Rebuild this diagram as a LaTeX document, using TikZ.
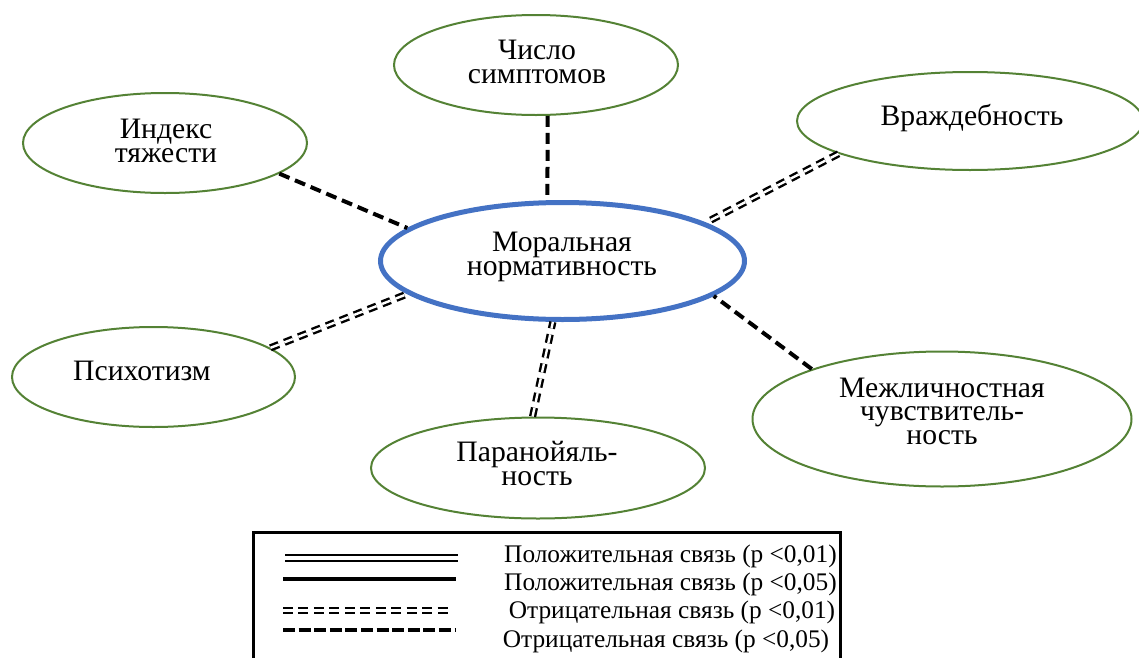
\documentclass[tikz,border=0pt]{standalone}
\usepackage{fontspec}
\setmainfont{Liberation Serif}
\usetikzlibrary{shapes.geometric}
\definecolor{ngreen}{RGB}{84,130,53}
\definecolor{nblue}{RGB}{68,114,196}
\begin{document}
\begin{tikzpicture}[x=0.75pt,y=-0.75pt,
  factor/.style={ellipse, draw=ngreen, line width=1.5pt, inner sep=0pt},
  central/.style={ellipse, draw=nblue, line width=3.75pt, inner sep=0pt},
  ftext/.style={anchor=base, inner sep=0pt, align=center,
    font=\fontsize{22.25pt}{17.6pt}\selectfont},
  negline/.style={line width=3pt, dash pattern=on 8.25pt off 4.5pt},
  negdouble/.style={double, line width=1.8pt, double distance=1.8pt, dash pattern=on 6.75pt off 4.5pt},
  legpos/.style={double, line width=1.5pt, double distance=3pt},
  legsolid/.style={line width=3pt},
  legnegd/.style={double, line width=1.8pt, double distance=1.9pt, dash pattern=on 7.5pt off 4.1pt},
  legneg/.style={line width=3pt, dash pattern=on 9pt off 2.7pt},
  legtext/.style={anchor=base, inner sep=0pt, font=\fontsize{19pt}{21pt}\selectfont},
  legframe/.style={draw=black, line width=2.25pt, inner sep=0pt, anchor=north west}
]
\useasboundingbox (0,0) rectangle (1139,657);
\begin{scope}
\clip (0,0) rectangle (1139,657);

% ellipses
\node[central, minimum width=364*0.75pt, minimum height=117*0.75pt] (moral) at (562.5,261) {};
\node[factor, minimum width=284*0.75pt, minimum height=100*0.75pt] (sym) at (536,65) {};
\node[factor, minimum width=284*0.75pt, minimum height=100*0.75pt] (idx) at (165,143) {};
\node[factor, minimum width=346*0.75pt, minimum height=98*0.75pt] (hos) at (970,121) {};
\node[factor, minimum width=283*0.75pt, minimum height=100*0.75pt] (psy) at (153.5,377) {};
\node[factor, minimum width=334*0.75pt, minimum height=101*0.75pt] (par) at (538,468) {};
\node[factor, minimum width=379*0.75pt, minimum height=135*0.75pt] (inter) at (942,419) {};

% texts (anchored at the baseline of their last line)
\node[ftext] (moralT) at (562,275) {Моральная\\нормативность};
\node[ftext] (symT) at (537,83) {Число\\симптомов};
\node[ftext] (idxT) at (166,162) {Индекс\\тяжести};
\node[ftext] (hosT) at (972,125) {Враждебность};
\node[ftext] (psyT) at (142,380) {Психотизм};
\node[ftext] (parT) at (537,485) {Паранойяль-\\ность};
\node[ftext] (interT) at (942,444) {Межличностная\\чувствитель-\\ность};

% connectors
\draw[negline] (sym.-77.6) -- (moral.104.7);
\draw[negline] (idx.-15.7) -- (moral.168.3);
\draw[negdouble] (hos.194.4) -- (moral.15.2);
\draw[negdouble] (psy.14.2) -- (moral.192.7);
\draw[negdouble] (par.96.7) -- (moral.261);
\draw[negline] (inter.159.5) -- (moral.-13.9);

% legend
\node[legframe, minimum width=587*0.75pt, minimum height=180*0.75pt] (legend) at (252,531) {};
\coordinate (p1a) at (285,558); \coordinate (p1b) at (458,558);
\coordinate (p2a) at (283,579); \coordinate (p2b) at (456,579);
\coordinate (n1a) at (283,610.5); \coordinate (n1b) at (452,610.5);
\coordinate (n2a) at (283,630); \coordinate (n2b) at (456,630);
\draw[legpos] (p1a) -- (p1b);
\draw[legsolid] (p2a) -- (p2b);
\draw[legnegd] (n1a) -- (n1b);
\draw[legneg] (n2a) -- (n2b);
\node[legtext] (t1) at (670.5,562) {Положительная связь (p <0,01)};
\node[legtext] (t2) at (670.5,590) {Положительная связь (p <0,05)};
\node[legtext] (t3) at (672,618) {Отрицательная связь (p <0,01)};
\node[legtext] (t4) at (666,647) {Отрицательная связь (p <0,05)};
\end{scope}
\end{tikzpicture}
\end{document}
